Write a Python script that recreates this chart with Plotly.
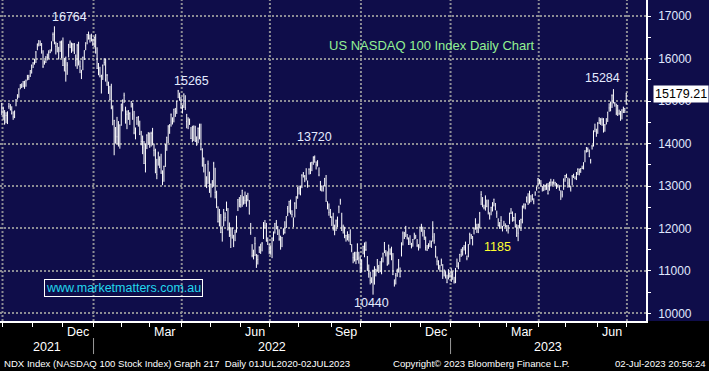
import pandas as pd
import plotly.graph_objects as go

# ---------------- data (NASDAQ 100, daily bars) ----------------
holidays = ["2021-11-25", "2021-12-24", "2022-01-17", "2022-02-21", "2022-04-15",
            "2022-05-30", "2022-06-20", "2022-07-04", "2022-09-05", "2022-11-24",
            "2022-12-26", "2023-01-02", "2023-01-16", "2023-02-20", "2023-04-07",
            "2023-05-29", "2023-06-19"]

close = [
    14689,
    # Oct 2021
    14830,14472,14660,14740,14880,14800,14700,14630,14760,15030,15150,15290,15390,15360,15460,15340,15480,15540,15560,15720,15850,
    # Nov 2021
    15900,15980,16160,16340,16350,16340,16240,15820,15890,16040,16030,16150,16150,16390,16570,16370,16290,16360,16020,16380,16135,
    # Dec 2021
    15840,15950,15710,15850,16330,16390,16150,16335,16140,15960,16320,15900,15820,15630,16030,16190,16305,16570,16480,16480,16420,16320,
    # Jan 2022
    16500,16280,15770,15750,15590,15610,15850,15910,15510,15610,15210,15040,14850,14440,14540,14180,14160,14010,14440,14930,
    # Feb 2022
    15020,15140,14500,14690,14580,14710,14990,14680,14250,14270,14620,14620,14220,14050,13910,13530,13990,14200,14240,
    # Mar 2022
    14010,14240,14010,13840,13320,13270,13770,13620,13300,13050,13460,13960,14150,14420,14390,14680,14480,14810,14760,14990,15240,15080,14840,
    # Apr 2022
    14860,15170,14840,14520,14560,14460,14120,14080,14390,14050,14070,14360,14170,13860,13470,13660,13000,12980,13520,12850,
    # May 2022
    13040,13090,13530,12850,12680,12160,12290,11910,11910,12390,12260,12620,11980,11910,11840,12010,11740,11900,12260,12680,12640,
    # Jun 2022
    12560,12900,12610,12660,12770,12680,12340,11900,11360,11340,11640,11130,11270,11550,11510,11640,12140,12060,11700,11710,11500,
    # Jul 2022
    11590,11770,11850,12110,12130,11860,11750,11740,11780,11990,11900,12280,12470,12640,12400,12330,12080,12590,12740,12950,
    # Aug 2022
    12935,12890,13250,13300,13230,13180,13010,13390,13300,13560,13680,13670,13500,13540,13260,12910,12900,12950,13180,12640,12510,12380,12270,
    # Sep 2022
    12260,12010,11940,12180,12250,12510,12650,11960,12040,11840,11830,11920,11800,11620,11490,11310,11250,11270,11620,11300,10970,
    # Oct 2022
    11220,11580,11570,11500,11050,10930,10780,10750,11000,10690,11030,11100,11070,11000,11300,11400,11670,11400,11150,11600,11410,
    # Nov 2022
    11300,10920,10710,10890,11040,11140,10860,11660,11890,11780,11940,11780,11760,11680,11570,11740,11860,11770,11600,11520,12030,
    # Dec 2022
    12050,12010,11790,11550,11490,11630,11580,11700,11800,11720,11350,11230,11080,11090,11240,10980,11020,10880,10730,11010,10940,
    # Jan 2023
    10860,10910,10740,11040,11110,11190,11390,11460,11540,11560,11400,11290,11620,11860,11830,11810,12010,12170,11910,12100,
    # Feb 2023
    12360,12800,12570,12490,12730,12520,12390,12300,12500,12590,12690,12440,12360,12060,12060,12190,11990,12070,12040,
    # Mar 2023
    11950,12060,12360,12360,12180,12260,12040,11830,11890,12140,12210,12520,12520,12560,12740,12570,12720,12770,12700,12640,12860,12960,13180,
    # Apr 2023
    13100,13050,12930,13020,13010,12930,12820,13090,13080,13080,13080,13080,13000,13020,12950,12680,12790,13160,13250,
    # May 2023
    13220,13070,12980,12930,13230,13270,13170,13300,13390,13340,13410,13420,13550,13830,13810,13870,13690,13600,13940,14300,14340,14250,
    # Jun 2023
    14470,14550,14540,14570,14280,14440,14480,14740,14840,14950,15130,14960,14940,14720,14900,14710,14550,14790,14820,14780,15179.21,
]

high = [
    14960,
    14870,14790,14740,14760,14960,14930,14880,14760,14780,15050,15160,15300,15400,15420,15470,15480,15510,15620,15620,15730,15860,
    15920,16000,16180,16360,16440,16430,16370,16200,15960,16060,16120,16200,16220,16410,16620,16764,16400,16370,16280,16420,16430,
    16500,16020,16050,15920,16350,16430,16380,16370,16370,16100,16350,16400,15960,15740,16050,16200,16390,16580,16640,16570,16590,16470,
    16520,16580,16270,15900,15810,15620,15860,16010,16000,15640,15460,15360,15410,14900,14560,14390,14630,14530,14450,14940,
    15040,15200,14870,14780,14790,14740,15000,14960,14770,14380,14630,14650,14540,14300,14190,14060,14000,14220,14270,
    14260,14280,14370,14000,13880,13640,13810,13700,13760,13370,13480,13990,14160,14430,14460,14710,14620,14820,14840,15010,15265,15200,15100,
    14910,15180,15140,14700,14620,14590,14390,14420,14430,14420,14170,14380,14470,14470,13890,13670,13520,13230,13600,13340,
    13060,13140,13570,13430,12890,12520,12460,12340,12050,12460,12380,12630,12480,12140,12030,12020,11850,11970,12300,12690,12740,
    12790,12910,12760,12870,12790,12840,12670,12130,11630,11500,11800,11400,11380,11580,11640,11680,12150,12200,12130,11790,11640,
    11600,11790,11930,12130,12200,12060,11980,11830,11800,12000,12170,12290,12530,12650,12680,12430,12260,12620,12760,12980,
    13010,13000,13280,13330,13260,13420,13130,13420,13560,13570,13700,13720,13580,13610,13440,13120,13000,13020,13190,13260,12640,12590,12460,
    12290,12370,12090,12210,12280,12540,12700,12370,12090,12040,11850,11930,11870,11980,11630,11430,11450,11450,11650,11450,11340,
    11270,11590,11670,11690,11350,11150,10980,10850,11030,11110,11050,11280,11140,11230,11310,11430,11680,11490,11460,11620,11530,
    11570,11420,10800,10950,11050,11280,11080,11670,11930,11920,12060,11870,11790,11840,11660,11750,11900,11850,11750,11630,12040,
    12110,12040,11970,11810,11610,11650,11720,11710,12170,11890,11590,11340,11250,11140,11290,11160,11030,10990,10910,11040,10960,
    11060,10990,10860,11070,11290,11200,11400,11520,11560,11610,11690,11360,11630,11900,11870,11820,12020,12240,12110,12110,
    12390,12880,12740,12560,12780,12680,12680,12380,12510,12620,12700,12600,12420,12240,12150,12290,12060,12180,12120,
    12080,12080,12370,12480,12400,12270,12360,12100,12080,12200,12230,12540,12590,12590,12750,12830,12890,12780,12810,12710,12870,12990,13190,
    13160,13140,13000,13040,13030,13060,13070,13100,13170,13110,13160,13100,13070,13040,13020,12900,12890,13180,13260,
    13290,13200,13180,13010,13260,13290,13230,13330,13420,13410,13420,13480,13560,13840,13920,13910,13860,13640,13970,14310,14470,14350,
    14510,14620,14600,14610,14600,14460,14600,14750,14950,14990,15160,15284,14980,14940,14910,14800,14770,14810,14870,14840,15200,
]

low = [
    14680,
    14560,14446,14480,14460,14820,14780,14690,14560,14600,14880,15040,15080,15280,15310,15330,15290,15340,15490,15500,15570,15650,
    15780,15860,15900,16200,16290,16300,16120,15780,15860,15900,15960,16000,16130,16170,16410,16340,16100,16150,15980,16160,16010,
    15830,15700,15460,15620,16030,16250,16140,16170,16110,15820,15760,15840,15660,15520,15730,15970,16200,16340,16450,16380,16410,16310,
    16270,16120,15760,15610,15560,15180,15500,15840,15460,15360,15170,15020,14810,14440,13725,14000,13980,13930,13880,14420,
    14760,14960,14470,14340,14560,14440,14850,14560,14220,14100,14440,14400,14200,13960,13750,13520,13320,13870,13970,
    13900,13930,13960,13700,13300,13160,13480,13420,13290,13020,13100,13450,13830,14010,14230,14400,14450,14500,14630,14700,15070,15010,14830,
    14710,14840,14790,14360,14340,14440,14110,14030,14060,14040,13950,14010,14100,13840,13460,13320,12990,12950,13050,12840,
    12730,12960,12990,12710,12480,12140,12050,11890,11690,12050,12170,12410,11950,11800,11540,11760,11560,11700,11900,12410,12500,
    12490,12510,12560,12580,12510,12640,12330,11850,11320,11270,11350,11070,11150,11420,11400,11460,11750,12000,11690,11610,11390,
    11380,11300,11700,11880,11980,11850,11710,11500,11560,11850,11880,12010,12290,12370,12330,12260,12030,12260,12460,12700,
    12800,12780,12950,13200,13090,13130,12960,13270,13280,13350,13500,13550,13390,13460,13230,12890,12870,12870,13000,12630,12450,12300,12250,
    12060,11950,11840,11940,12030,12360,12560,11940,11880,11770,11690,11720,11690,11610,11440,11180,11220,11160,11250,11170,10960,
    10970,11390,11320,11470,11000,10840,10680,10710,10440,10680,10870,10990,10950,10970,10920,11200,11420,11340,11120,11150,11370,
    11250,10900,10630,10680,10860,10960,10850,11340,11600,11750,11800,11740,11610,11610,11530,11570,11740,11760,11560,11480,11530,
    11920,11810,11730,11480,11470,11520,11570,11540,11690,11640,11310,11130,11030,10980,11120,10810,10870,10820,10710,10800,10840,
    10740,10790,10700,10710,11080,11040,11210,11330,11360,11480,11390,11250,11320,11620,11750,11600,11860,11970,11900,11890,
    12000,12550,12500,12450,12420,12500,12330,12210,12310,12400,12520,12430,12250,12050,11990,12020,11930,12050,12030,
    11930,11880,12100,12340,12160,12170,12020,11800,11700,12000,11940,12120,12470,12450,12610,12560,12590,12620,12660,12570,12770,12890,12990,
    13050,12990,12870,12880,12900,12910,12800,12890,12990,13010,13030,12990,12930,12960,12890,12680,12730,12910,13100,
    13190,12960,12970,12870,13020,13190,13160,13140,13260,13250,13310,13400,13390,13560,13790,13800,13680,13530,13860,13930,14270,14160,
    14230,14460,14440,14420,14260,14280,14450,14510,14750,14760,14840,14950,14870,14670,14650,14670,14540,14570,14720,14720,14920,
]

y_ticks = [10000, 11000, 12000, 13000, 14000, 15000, 16000, 17000]
labelled_months = {12: "Dec", 3: "Mar", 6: "Jun", 9: "Sep"}
last_price = 15179.21
callouts = [  # (date, value, text, colour, xshift, yshift)
    ("2021-11-22", 16764, "16764", "#e4ebff", 15, 9),
    ("2022-03-29", 15265, "15265", "#e4ebff", 13, 9),
    ("2022-08-16", 13720, "13720", "#e4ebff", 0, 18),
    ("2022-10-13", 10440, "10440", "#e4ebff", -2, -8),
    ("2023-03-13", 11700, "1185", "#ffff30", -21, -6),
    ("2023-06-16", 15284, "15284", "#e4ebff", -11, 11),
]

# ---------------- trading-day axis ----------------
dates = [d for d in pd.bdate_range("2021-09-30", "2023-06-30")
         if d.strftime("%Y-%m-%d") not in holidays]
assert len(dates) == len(close) == len(high) == len(low), (len(dates), len(close), len(high), len(low))
ref = dates.index(pd.Timestamp("2021-10-01"))
idx = [i - ref for i in range(len(dates))]
pos = {d.strftime("%Y-%m-%d"): i for d, i in zip(dates, idx)}

XMIN, XMAX = -2.26, 451.9
YMIN, YMAX = 9819, 17384

month_bounds, quarter_bounds, year_bounds = [], [], []
for i in range(1, len(dates)):
    if dates[i].month != dates[i - 1].month:
        b = idx[i] - 0.5
        month_bounds.append(b)
        if dates[i].month in (1, 4, 7, 10):
            quarter_bounds.append(b)
        if dates[i].year != dates[i - 1].year:
            year_bounds.append(b)
month_bounds.append(idx[-1] + 0.5)      # July 2023 starts after the last bar
quarter_bounds.append(idx[-1] + 0.5)

groups = {}
for d, i in zip(dates, idx):
    groups.setdefault((d.year, d.month), []).append(i)

NAVY = "#0f0d4a"
GRID = "#8c8c94"
SANS = "Liberation Sans, Arial, sans-serif"

fig = go.Figure()
fig.add_trace(go.Ohlc(
    x=idx, open=close, high=high, low=low, close=close,
    increasing=dict(line=dict(color="white", width=1)),
    decreasing=dict(line=dict(color="white", width=1)),
    tickwidth=0.2, hoverinfo="skip", showlegend=False))

# tick arrows on the price axis
fig.add_trace(go.Scatter(
    x=[XMAX + 2.6] * len(y_ticks), y=y_ticks, mode="markers",
    marker=dict(symbol="triangle-right", size=7, color="white", line=dict(width=0)),
    cliponaxis=False, hoverinfo="skip", showlegend=False))

shapes = []
shapes.append(dict(type="rect", xref="paper", yref="paper", x0=1, x1=1.2, y0=0, y1=1,
                   fillcolor=NAVY, line=dict(width=0), layer="below"))
for b in quarter_bounds:
    shapes.append(dict(type="line", xref="x", yref="paper", x0=b, x1=b, y0=0, y1=1,
                       line=dict(color=GRID, width=2, dash="2px,2px"), layer="below"))
for b in year_bounds:
    shapes.append(dict(type="line", xref="x", yref="paper", x0=b, x1=b, y0=-0.053, y1=-0.103,
                       line=dict(color="#9a9a9a", width=1)))

annotations = []
for (yr, mo), lst in groups.items():
    if mo in labelled_months and len(lst) > 5:
        annotations.append(dict(x=(lst[0] + lst[-1]) / 2, y=-0.034, xref="x", yref="paper",
                                text=labelled_months[mo], showarrow=False,
                                xanchor="center", yanchor="middle",
                                font=dict(family=SANS, size=12.5, color="white")))
edges = [XMIN] + year_bounds + [XMAX]
for k, yr in enumerate([2021, 2022, 2023]):
    annotations.append(dict(x=(edges[k] + edges[k + 1]) / 2, y=-0.080, xref="x", yref="paper",
                            text=str(yr), showarrow=False, xanchor="center", yanchor="middle",
                            font=dict(family=SANS, size=12.5, color="white")))

for d, v, t, c, xs, ys in callouts:
    annotations.append(dict(x=pos[d], y=v, xref="x", yref="y", text=t, showarrow=False,
                            xshift=xs, yshift=ys, xanchor="center", yanchor="middle",
                            font=dict(family=SANS, size=12.5, color=c)))

annotations.append(dict(x=0.6695, y=0.8567, xref="paper", yref="paper",
                        text="US NASDAQ 100 Index Daily Chart", showarrow=False,
                        xanchor="center", yanchor="middle",
                        font=dict(family=SANS, size=13, color="#93f193")))
annotations.append(dict(x=0.1912, y=0.1028, xref="paper", yref="paper",
                        text="www.marketmatters.com.au", showarrow=False,
                        xanchor="center", yanchor="middle",
                        bordercolor="white", borderwidth=1, borderpad=1,
                        font=dict(family=SANS, size=12.5, color="#22d8ee")))
annotations.append(dict(x=1, y=last_price, xref="paper", yref="y", text=f"{last_price:.2f}",
                        showarrow=False, xanchor="left", xshift=7, yanchor="middle",
                        bgcolor="white", borderpad=1,
                        font=dict(family=SANS, size=12.5, color="black")))
fig.add_trace(go.Scatter(
    x=[XMAX + 3.4], y=[last_price], mode="markers",
    marker=dict(symbol="triangle-left", size=9, color="white", line=dict(width=0)),
    cliponaxis=False, hoverinfo="skip", showlegend=False))

footer_y = -0.131
FOOT = dict(family=SANS, size=9.6, color="white")
annotations.append(dict(x=0.003, y=footer_y, xref="paper", yref="paper", xanchor="left",
                        text="NDX Index (NASDAQ 100 Stock Index) Graph 217  Daily 01JUL2020-02JUL2023",
                        showarrow=False, yanchor="middle", font=FOOT))
annotations.append(dict(x=0.605, y=footer_y, xref="paper", yref="paper", xanchor="left",
                        text="Copyright\u00a9 2023 Bloomberg Finance L.P.", showarrow=False,
                        yanchor="middle", font=FOOT))
annotations.append(dict(x=1.096, y=footer_y, xref="paper", yref="paper", xanchor="right",
                        text="02-Jul-2023 20:56:24", showarrow=False, yanchor="middle",
                        font=FOOT))

fig.update_layout(
    width=709, height=371,
    margin=dict(l=0, r=63, t=0, b=50, pad=0),
    paper_bgcolor="black", plot_bgcolor=NAVY,
    showlegend=False,
    xaxis=dict(range=[XMIN, XMAX], rangeslider=dict(visible=False),
               tickmode="array", tickvals=month_bounds, showticklabels=False,
               ticks="outside", ticklen=4, tickwidth=1, tickcolor="white",
               showgrid=False, zeroline=False,
               showline=True, linecolor="white", linewidth=1.5),
    yaxis=dict(range=[YMIN, YMAX], side="right", tickmode="array", tickvals=y_ticks,
               ticktext=[str(v) for v in y_ticks],
               ticks="outside", ticklen=8, tickcolor="rgba(0,0,0,0)",
               tickfont=dict(family=SANS, size=12, color="#e0e9ff"),
               showgrid=True, gridcolor=GRID, gridwidth=2, griddash="2px,2px",
               zeroline=False, showline=True, linecolor="white", linewidth=1.5,
               minor=dict(dtick=500, tick0=0, ticks="outside", ticklen=3,
                          tickcolor="white", tickwidth=1, showgrid=False)),
    shapes=shapes, annotations=annotations,
)

fig.write_html("out.html", config={"displayModeBar": False},
               post_script="document.body.style.margin='0';document.body.style.overflow='hidden';")
